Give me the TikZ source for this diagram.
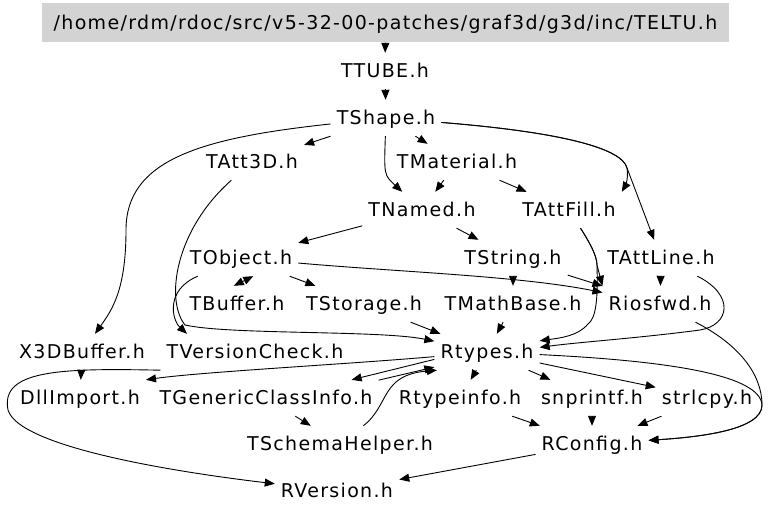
\documentclass[tikz,border=0pt]{standalone}
\usepackage{fontspec}
\setmainfont{DejaVu Sans}[LetterSpace=7]
\usetikzlibrary{positioning,arrows.meta}
\definecolor{hdrgray}{RGB}{211,211,211}

\begin{document}
\begin{tikzpicture}[
    x=1pt, y=-1pt,
    file/.style={inner xsep=6pt, inner ysep=0pt, minimum height=36pt,
        text height=13.5pt, text depth=0pt, font=\fontsize{19}{21}\selectfont},
    hdr/.style={file, fill=hdrgray, minimum height=39pt, minimum width=687pt},
    arrow/.style={-{Triangle[length=10pt,width=8pt]}, line width=0.9pt},
    dblarrow/.style={{Triangle[length=10pt,width=8pt]}-{Triangle[length=10pt,width=8pt]}, line width=0.9pt}
]
\useasboundingbox (0,0) rectangle (768,516);

% header and upper rows
\node[hdr]  (teltu)     at (385.5,23) {/home/rdm/rdoc/src/v5-32-00-patches/graf3d/g3d/inc/TELTU.h};
\node[file] (ttube)     at (385,71)  {TTUBE.h};
\node[file] (tshape)    at (386,118) {TShape.h};
\node[file] (tatt3d)    at (252,162) {TAtt3D.h};
\node[file] (tmaterial) at (457,162) {TMaterial.h};
\node[file] (tnamed)    at (422,210) {TNamed.h};
\node[file] (tattfill)  at (569,210) {TAttFill.h};
\node[file] (tobject)   at (241,258) {TObject.h};
\node[file] (tstring)   at (513,258) {TString.h};
\node[file] (tattline)  at (661,258) {TAttLine.h};
\node[file] (tbuffer)   at (237,304) {TBuffer.h};
\node[file] (tstorage)  at (364,304) {TStorage.h};
\node[file] (tmathbase) at (513,304) {TMathBase.h};
\node[file] (riosfwd)   at (660,304) {Riosfwd.h};

% lower rows
\node[file] (x3dbuffer)     at (82,352)  {X3DBuffer.h};
\node[file] (tversioncheck) at (255,352) {TVersionCheck.h};
\node[file] (rtypes)        at (487,352) {Rtypes.h};
\node[file] (dllimport)     at (80,398)  {DllImport.h};
\node[file] (tgeninfo)      at (266,398) {TGenericClassInfo.h};
\node[file] (rtypeinfo)     at (460,398) {Rtypeinfo.h};
\node[file] (snprintf)      at (592,398) {snprintf.h};
\node[file] (strlcpy)       at (707,398) {strlcpy.h};
\node[file] (tschema)       at (340,444) {TSchemaHelper.h};
\node[file] (rconfig)       at (592,444) {RConfig.h};
\node[file] (rversion)      at (337,491) {RVersion.h};

\draw[arrow] (teltu) -- (ttube);
\draw[arrow] (ttube) -- (tshape);
\draw[arrow] (tshape) -- (tatt3d);
\draw[arrow] (tshape) -- (tmaterial);
\draw[arrow] (tshape) .. controls (384,175) .. (tnamed);
\draw[arrow] (tshape) .. controls (200,138) and (126,160) .. (126,230)
    .. controls (126,290) and (112,310) .. (x3dbuffer);
\draw[arrow] (tshape) .. controls (560,132) and (622,148) .. (627,168)
    .. controls (629,180) and (624,188) .. (tattfill.north east);
\draw[arrow] (tshape) .. controls (560,132) and (622,148) .. (627,168) -- (tattline);

\draw[arrow] (tmaterial) -- (tnamed);
\draw[arrow] (tmaterial) -- (tattfill);
\draw[arrow] (tnamed) -- (tobject);
\draw[arrow] (tnamed) -- (tstring);
\draw[arrow] (tatt3d) .. controls (175,230) and (165,300) .. (185,325)
    .. controls (230,335) and (380,330) .. (rtypes);

\draw[dblarrow] (tobject.-56) -- (tbuffer.100);
\draw[arrow] (tobject) -- (tstorage);
\draw[arrow] (tobject) .. controls (400,272) and (520,276) .. (riosfwd);
\draw[arrow] (tobject) .. controls (165,290) and (172,320) .. (tversioncheck.165);

\draw[arrow] (tstring) -- (tmathbase);
\draw[arrow] (tstring) -- (riosfwd);
\draw[arrow] (tattfill) .. controls (588,240) and (597,255) .. (597,265)
    -- (riosfwd.north west);
\draw[arrow] (tattfill) .. controls (588,240) and (597,255) .. (597,265)
    .. controls (598,300) and (596,318) .. (588,324)
    .. controls (578,336) and (560,338) .. (rtypes.12);
\draw[arrow] (tattline) -- (riosfwd);
\draw[arrow] (tattline) .. controls (735,295) and (730,325) .. (700,330)
    .. controls (640,338) and (580,342) .. (rtypes.5);

\draw[arrow] (tstorage) -- (rtypes);
\draw[arrow] (tmathbase) -- (rtypes);
\draw[arrow] (riosfwd) .. controls (740,345) and (762,375) .. (762,405)
    .. controls (762,430) and (700,437) .. (rconfig);

\draw[arrow] (x3dbuffer) -- (dllimport);
\draw[arrow] (tversioncheck.south west) .. controls (60,368) and (0,370) .. (8,410)
    .. controls (20,450) and (200,475) .. (rversion);

\draw[arrow] (rtypes) .. controls (350,364) and (200,372) .. (dllimport.north east);
\draw[arrow] (rtypes.188) -- (tgeninfo.12);
\draw[arrow] (tgeninfo.9) -- (rtypes.196);
\draw[arrow] (rtypes) -- (rtypeinfo);
\draw[arrow] (rtypes) -- (snprintf);
\draw[arrow] (rtypes) -- (strlcpy);
\draw[arrow] (rtypes) .. controls (650,360) and (760,372) .. (762,405)
    .. controls (762,430) and (700,437) .. (rconfig);

\draw[arrow] (tgeninfo) -- (tschema);
\draw[arrow] (tschema) .. controls (390,405) and (380,375) .. (rtypes.200);
\draw[arrow] (rtypeinfo) -- (rconfig);
\draw[arrow] (snprintf) -- (rconfig);
\draw[arrow] (strlcpy) -- (rconfig);
\draw[arrow] (rconfig) -- (rversion);
\end{tikzpicture}
\end{document}
